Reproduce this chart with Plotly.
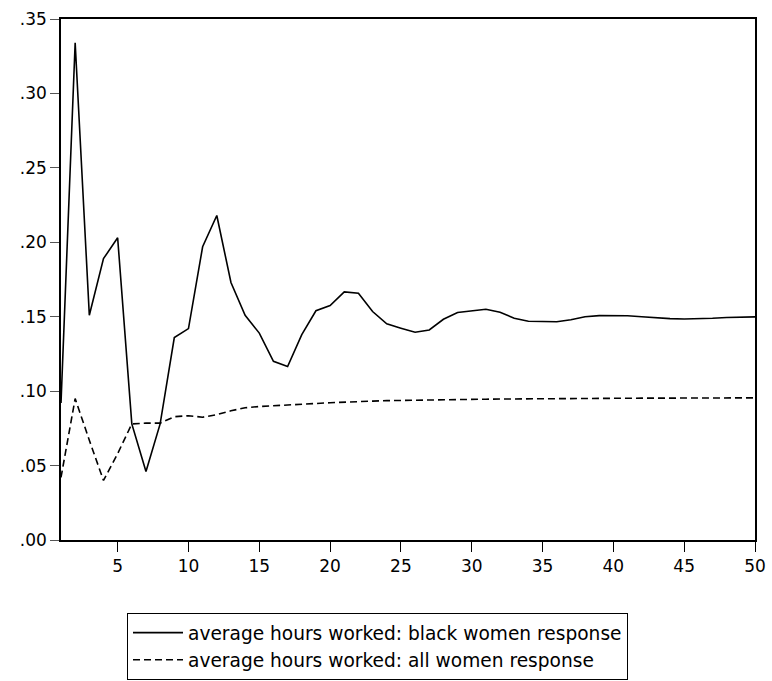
import plotly.graph_objects as go

periods = list(range(1, 51))

black_women = [0.092, 0.334, 0.151, 0.189, 0.203, 0.078, 0.046, 0.078, 0.136, 0.142,
               0.197, 0.218, 0.173, 0.151, 0.139, 0.120, 0.1165, 0.138, 0.154, 0.1575,
               0.1667, 0.1658, 0.1535, 0.1452, 0.1423, 0.1396, 0.1411, 0.1483, 0.1528, 0.1539,
               0.1550, 0.1530, 0.1490, 0.1470, 0.1466, 0.1466, 0.1480, 0.1500, 0.1507, 0.1508,
               0.1506, 0.1500, 0.1493, 0.1487, 0.1485, 0.1486, 0.1490, 0.1495, 0.1499, 0.1499]

all_women = [0.042, 0.095, 0.067, 0.040, 0.058, 0.078, 0.0785, 0.0785, 0.0828, 0.0835,
             0.0825, 0.0842, 0.0868, 0.0888, 0.0897, 0.0903, 0.0908, 0.0912, 0.0917, 0.0922,
             0.0927, 0.0930, 0.0933, 0.0936, 0.0938, 0.0940, 0.0942, 0.0943, 0.0944, 0.0945,
             0.0946, 0.0947, 0.0948, 0.0948, 0.0949, 0.0950, 0.0950, 0.0951, 0.0951, 0.0952,
             0.0952, 0.0953, 0.0953, 0.0953, 0.0954, 0.0954, 0.0954, 0.0955, 0.0955, 0.0955]

series_names = ["average hours worked: black women response",
                "average hours worked: all women response"]

y_tickvals = [0.00, 0.05, 0.10, 0.15, 0.20, 0.25, 0.30, 0.35]
y_ticktext = [".00", ".05", ".10", ".15", ".20", ".25", ".30", ".35"]
x_tickvals = [5, 10, 15, 20, 25, 30, 35, 40, 45, 50]

FONT = "DejaVu Sans, Liberation Sans, Arial, sans-serif"

fig = go.Figure()
fig.add_trace(go.Scatter(x=periods, y=black_women, mode="lines", name=series_names[0],
                         line=dict(color="black", width=1.6)))
fig.add_trace(go.Scatter(x=periods, y=all_women, mode="lines", name=series_names[1],
                         line=dict(color="black", width=1.6, dash="7px,4px")))

fig.update_layout(
    width=772, height=681,
    margin=dict(l=61, r=17, t=19, b=141, autoexpand=False),
    paper_bgcolor="white", plot_bgcolor="white",
    font=dict(family=FONT, size=17, color="black"),
    showlegend=True,
    legend=dict(xref="container", yref="container",
                x=127 / 772, xanchor="left", y=1 - 613 / 681, yanchor="top",
                bordercolor="black", borderwidth=1, bgcolor="white",
                font=dict(family=FONT, size=18.6, color="black"),
                itemwidth=50, tracegroupgap=0),
)
fig.update_xaxes(range=[1, 50], tickvals=x_tickvals, ticks="outside", ticklen=10,
                 tickcolor="black", showline=True, linecolor="black", linewidth=1.5,
                 mirror=True, showgrid=False, zeroline=False,
                 tickfont=dict(family=FONT, size=17, color="black"))
fig.update_yaxes(range=[0, 0.35], tickvals=y_tickvals, ticktext=y_ticktext, ticks="outside",
                 ticklen=9, tickcolor="#555", showline=True, linecolor="black", linewidth=1.5,
                 mirror=True, showgrid=False, zeroline=False,
                 tickfont=dict(family=FONT, size=17, color="black"))

fig.write_html("out.html")
